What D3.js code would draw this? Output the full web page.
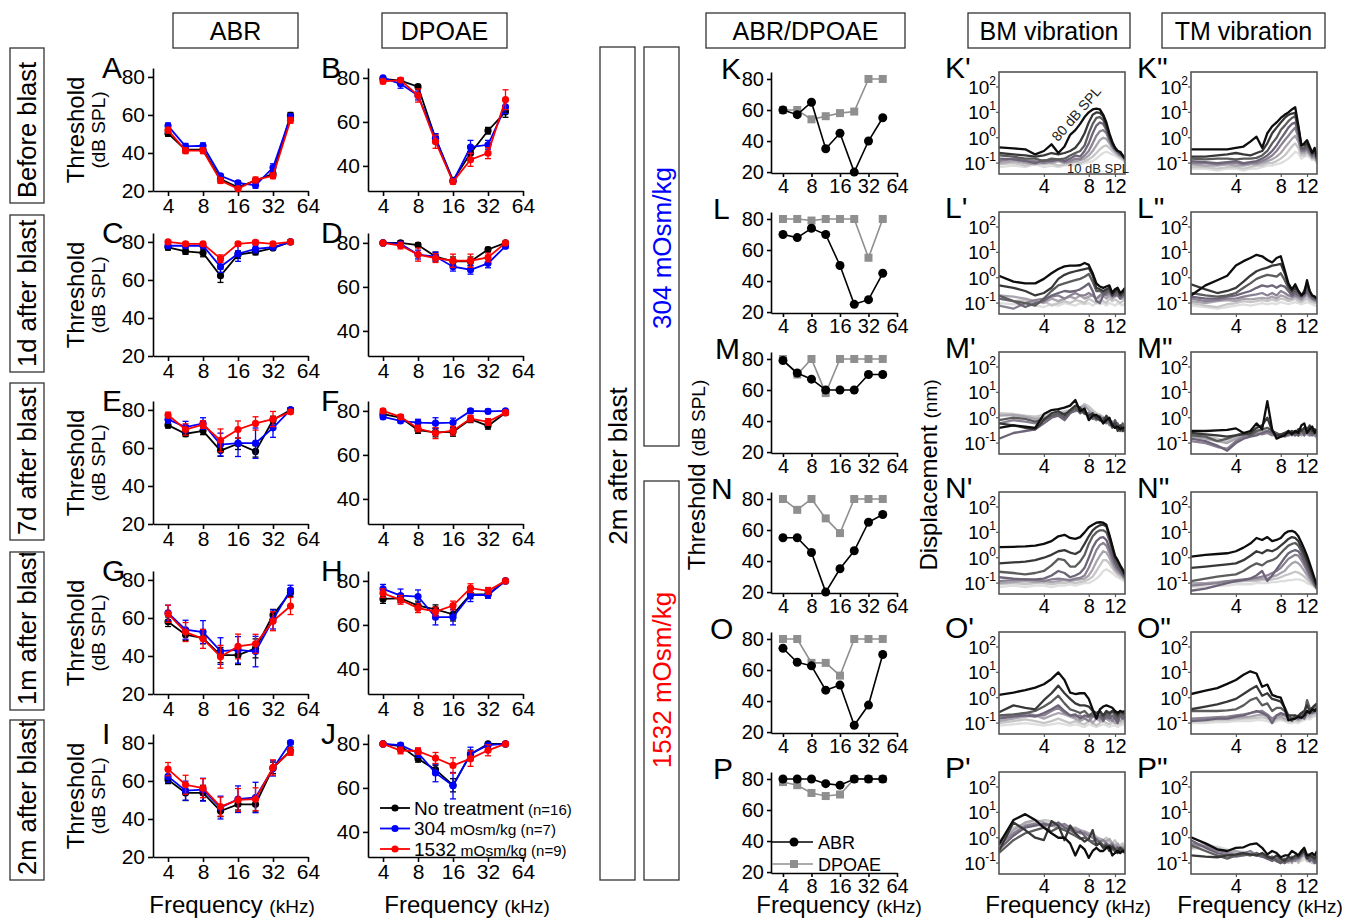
<!DOCTYPE html>
<html><head><meta charset="utf-8">
<script src="https://cdn.jsdelivr.net/npm/d3@7"></script>
<style>body{margin:0;background:#fff}</style>
</head><body>
<script>
// ================= DATA =================
const freqs = [4, 5.66, 8, 11.31, 16, 22.63, 32, 45.25];
const freqTicks = [4, 8, 16, 32, 64];
const abrTicksY = [20, 40, 60, 80];
const dpTicksY = [40, 60, 80];
const treatNames = ["No treatment", "304", "1532"];
const treatUnits = ["", " mOsm/kg", " mOsm/kg"];
const treatN = ["(n=16)", "(n=7)", "(n=9)"];
const rowLabels = ["Before blast", "1d after blast", "7d after blast", "1m after blast", "2m after blast"];

// means: [no treatment, 304, 1532]
const A_mean = [[50.3,41.7,41.7,26.3,22,25.5,29,59.8],[54.3,43.5,43.8,28,24.3,23,32.3,59],[52,41.2,41.2,25.5,21.2,25.8,28,57.2]];
const A_sem  = [[1.5,1.5,1.5,1.5,1,1,1.5,1.5],[1.5,1.5,1.5,1,1,1.5,2,1.5],[1.5,1.5,1.5,1.5,1,1.5,1.5,1.5]];
const B_mean = [[79.5,78.8,76,52.6,33.4,45.8,56,64.6],[80,77.3,72,52.6,33,48.6,49.6,66.8],[78.4,79,72,51,32.8,42.8,45.8,70.1]];
const B_sem  = [[0.5,1,1,2,1,2,1.5,2.5],[0.5,2,2,2,1,3,2,3],[1,1,3,3,1,3,2.5,4.5]];
const C_mean = [[77.2,75,74.2,62.2,73.3,74.7,76.8,80],[78,78,78,67,73.8,76.3,77.2,80],[80,79,79,71.2,79,79.8,79,80]];
const C_sem  = [[1.5,1.5,2,3.5,2,1.5,1,0.5],[1,1,1,3,4,2,1,0.5],[0.5,1,1,2,1,1,1,0.5]];
const D_mean = [[80,80,79,73.8,71.6,71.6,77,80],[80,79.5,74.7,73.8,69.2,67.8,70.7,78.5],[80,78.8,74.7,73.1,71.9,71.9,73.4,80]];
const D_sem  = [[0.5,1,1,2,2,2,1,0.5],[0.5,1,2,2,2,2,2,1],[0.5,1.5,3,2,3,3,2,0.5]];
const E_mean = [[72,67.5,69,58.6,62.2,58.2,74.7,80],[75,71,72.9,61.8,62.5,62.5,70.6,80],[77.3,69.7,72.3,64,69.7,72.9,75.2,79]];
const E_sem  = [[1.5,1.5,2,3,3,3,2,1],[2,3,3,6,7,8,5,1],[1.5,3,2,6,4.5,3.5,4,1]];
const F_mean = [[78.5,77,71.3,70.2,70.5,76.2,73.2,79.2],[77.3,75.5,74.7,74.4,74.7,80,79.8,80],[80,77.3,72,69.9,71,76.5,75,79.2]];
const F_sem  = [[1,1,1.5,2,2,1.5,1.5,1],[1,1,1.5,2.5,2,1,1,0.5],[1,1,1.5,2.5,2,1.5,1.5,1]];
const G_mean = [[58,51.2,49.4,40.5,40.5,44,61.5,73.4],[62.7,53.8,52.6,42.6,43.2,42.3,59.2,74.7],[62.2,52.6,49,39.6,45,46.4,58.3,66.3]];
const G_sem  = [[2.5,3,3,4,5,5,3,2],[4,5,6,7,7,8,5,2.5],[4.5,5,5,6,6.5,5,5,4.5]];
const H_mean = [[71.8,72.1,68.8,67.1,64.8,73.9,73.9,80],[76.4,73.3,72.9,63.5,63.5,73.6,73.6,80],[74.4,71.4,67.6,66.1,68.8,76.7,75.5,80]];
const H_sem  = [[2,2,2,2,3,2,1,0.5],[2,3,3,3.5,3.5,3,1.5,0.5],[2,2,2,2,2,2,1.5,0.5]];
const I_mean = [[60.6,53.7,53.7,44.2,47.7,47.7,66.9,75.9],[62.4,54.9,55.4,46,50.4,51.3,66.6,80.2],[66.2,58,56.2,46.5,50,50.4,67.1,75.5]];
const I_sem  = [[2,4,4,3,3,4,3,2],[3,5,6,6,7,8,4,1],[3.5,5,5,5,6,6,4,2]];
const J_mean = [[80,79,73.2,68.3,61.2,75.2,80,80],[80,79.4,75.9,66.8,61,75.5,79.4,80],[80,77,76.7,73.6,70.2,73.3,77.1,80]];
const J_sem  = [[0.5,1,1.5,2,3,2,0.5,0.5],[0.5,1,2,4,6,3,1,0.5],[0.5,1.5,1.5,2.5,3.5,3.5,2.5,0.5]];

// individual ears, 2m after blast: [ABR, DPOAE]
const K_thr = [[60,57,65,35,45,20,40,55],[60,60,54,56,58,59,80,80]];
const L_thr = [[70,68,74,70,50,25,28,45],[80,80,79,80,80,80,55,80]];
const M_thr = [[79,71,67,60,60,60,70,70],[80,70,80,58,80,80,80,80]];
const N_thr = [[55,55,45.5,20,35,46.6,65,70],[80,73,80,67.5,58,80,80,80]];
const O_thr = [[74,65,62.7,47,50.3,24.4,37.4,70],[80,80,64.6,64.6,56.4,80,80,80]];
const P_thr = [[80,80,80,77,76,80,80,80],[78,76,71,69,70,80,80,80]];

// vibration: frequency grid (kHz) and displacement (nm), rows = 80,70,...,10 dB SPL
const vibFreq = [2,2.5,3,3.5,4, 4.5,5,5.5,6,6.5, 7,7.5,8,8.5,9, 9.5,10,10.5,11,11.5, 12,12.5,13,13.5,14];
const vibTicksX = [4, 8, 12];
const vibExps = [2, 1, 0, -1];
const levels = [80,70,60,50,40,30,20,10];

const bmK = [
 [0.42,0.38,0.35,0.22,0.3, 0.55,0.25,0.45,1.3,2, 3.5,6.5,10,13,14, 13,8,4,1.5,0.7, 0.4,0.3,0.28,0.2,0.15],
 [0.25,0.22,0.2,0.18,0.2, 0.25,0.22,0.25,0.3,0.4, 0.7,1.5,4,8,10, 9.5,7,3,1.2,0.6, 0.4,0.3,0.25,0.2,0.15],
 [0.2,0.18,0.15,0.15,0.12, 0.15,0.14,0.15,0.2,0.25, 0.3,0.5,1.5,3.5,6, 6.5,5,2.5,1,0.55, 0.35,0.3,0.25,0.2,0.15],
 [0.15,0.14,0.12,0.1,0.13, 0.12,0.14,0.12,0.15,0.2, 0.18,0.3,0.6,1.5,3, 4,3.5,2,0.9,0.5, 0.35,0.3,0.22,0.2,0.14],
 [0.12,0.15,0.13,0.12,0.1, 0.12,0.13,0.11,0.12,0.15, 0.14,0.2,0.3,0.6,1.2, 1.8,2,1.5,0.8,0.45, 0.32,0.25,0.2,0.18,0.13],
 [0.1,0.12,0.1,0.09,0.11, 0.1,0.12,0.1,0.11,0.12, 0.13,0.15,0.2,0.3,0.5, 0.8,1,0.9,0.6,0.4, 0.3,0.22,0.2,0.16,0.12],
 [0.09,0.1,0.08,0.1,0.09, 0.1,0.08,0.09,0.1,0.11, 0.1,0.12,0.14,0.18,0.25, 0.35,0.45,0.5,0.4,0.3, 0.25,0.2,0.17,0.15,0.12],
 [0.07,0.08,0.07,0.09,0.07, 0.08,0.07,0.08,0.09,0.08, 0.09,0.1,0.11,0.12,0.15, 0.2,0.25,0.28,0.25,0.22, 0.2,0.17,0.15,0.13,0.1]];
const tmK = [
 [0.35,0.35,0.35,0.35,0.4, 0.45,0.7,1.1,0.4,1.5, 2.8,4,6,8,10, 13,16,3,0.5,0.6, 0.8,0.45,0.25,0.4,0.18],
 [0.18,0.18,0.2,0.22,0.25, 0.22,0.2,0.25,0.3,0.6, 1.5,2.5,4,6,8, 9,9.5,2.5,0.5,0.5, 0.6,0.4,0.25,0.35,0.15],
 [0.15,0.14,0.15,0.15,0.14, 0.15,0.15,0.16,0.2,0.3, 0.6,1,2,3,4.5, 6,7,2,0.4,0.4, 0.5,0.35,0.22,0.3,0.15],
 [0.12,0.11,0.1,0.11,0.12, 0.1,0.11,0.12,0.15,0.2, 0.3,0.5,0.9,1.5,2.5, 3.5,4,1.5,0.35,0.35, 0.4,0.3,0.2,0.25,0.14],
 [0.1,0.1,0.09,0.1,0.1, 0.09,0.1,0.1,0.12,0.15, 0.2,0.3,0.5,0.8,1.2, 1.8,2.5,1,0.3,0.3, 0.35,0.25,0.18,0.2,0.12],
 [0.09,0.08,0.08,0.09,0.08, 0.08,0.09,0.09,0.1,0.12, 0.14,0.18,0.25,0.4,0.6, 0.9,1.2,0.7,0.25,0.25, 0.3,0.22,0.16,0.18,0.12],
 [0.07,0.07,0.06,0.07,0.07, 0.06,0.07,0.08,0.08,0.1, 0.1,0.12,0.15,0.2,0.3, 0.45,0.6,0.4,0.2,0.2, 0.25,0.2,0.15,0.15,0.1],
 [0.06,0.06,0.05,0.06,0.06, 0.05,0.06,0.06,0.07,0.08, 0.08,0.09,0.1,0.12,0.15, 0.2,0.28,0.25,0.15,0.18, 0.2,0.17,0.13,0.14,0.1]];
const bmL = [
 [1.2,0.7,0.6,0.6,0.9, 1.5,2.2,2.8,3,3, 3.1,3.8,3.2,1.5,0.6, 0.45,0.4,0.45,0.5,0.25, 0.35,0.4,0.25,0.3,0.4],
 [0.5,0.4,0.3,0.2,0.25, 0.4,0.9,1.3,1.6,1.8, 2,2.2,2.4,1.2,0.4, 0.35,0.3,0.35,0.4,0.2, 0.3,0.35,0.2,0.25,0.3],
 [0.2,0.12,0.1,0.08,0.15, 0.3,0.5,0.6,0.7,0.8, 0.9,1.1,1.4,0.7,0.3, 0.3,0.25,0.3,0.35,0.2, 0.25,0.3,0.2,0.2,0.25],
 [0.15,0.12,0.07,0.1,0.12, 0.2,0.25,0.3,0.28,0.3, 0.35,0.45,0.6,0.3,0.12, 0.1,0.2,0.25,0.3,0.2, 0.2,0.25,0.15,0.2,0.22],
 [0.08,0.06,0.1,0.13,0.15, 0.18,0.2,0.15,0.2,0.25, 0.2,0.2,0.25,0.2,0.15, 0.2,0.25,0.2,0.25,0.18, 0.2,0.2,0.15,0.18,0.2],
 [0.2,0.18,0.15,0.12,0.1, 0.15,0.12,0.15,0.18,0.15, 0.2,0.15,0.18,0.2,0.15, 0.18,0.2,0.15,0.2,0.15, 0.18,0.2,0.15,0.15,0.18],
 [0.15,0.12,0.13,0.1,0.12, 0.08,0.1,0.12,0.1,0.13, 0.12,0.1,0.15,0.12,0.1, 0.14,0.12,0.1,0.15,0.12, 0.14,0.12,0.1,0.12,0.14],
 [0.1,0.09,0.1,0.08,0.07, 0.09,0.08,0.1,0.09,0.08, 0.1,0.09,0.1,0.08,0.1, 0.09,0.1,0.08,0.1,0.09, 0.08,0.1,0.09,0.08,0.1]];
const tmL = [
 [0.2,0.5,0.8,1.2,3, 4.5,6,8,7,5, 4,6,7,2,0.6, 0.35,0.55,0.3,0.2,0.25, 0.8,0.3,0.2,0.18,0.15],
 [0.55,0.35,0.25,0.3,0.4, 0.7,1.2,1.8,2.2,2.5, 3,3.2,3.5,1.5,0.5, 0.3,0.4,0.3,0.2,0.3, 0.6,0.3,0.2,0.18,0.15],
 [0.25,0.2,0.18,0.2,0.25, 0.4,0.6,0.9,1.1,1.3, 1.2,1.1,1.5,0.8,0.4, 0.25,0.3,0.25,0.2,0.25, 0.4,0.25,0.18,0.15,0.14],
 [0.18,0.15,0.15,0.18,0.2, 0.25,0.3,0.4,0.5,0.45, 0.5,0.4,0.5,0.45,0.3, 0.2,0.25,0.2,0.18,0.2, 0.3,0.2,0.16,0.14,0.13],
 [0.15,0.12,0.13,0.15,0.15, 0.18,0.2,0.22,0.25,0.2, 0.25,0.2,0.3,0.25,0.2, 0.18,0.2,0.18,0.15,0.2, 0.25,0.18,0.15,0.13,0.12],
 [0.12,0.1,0.12,0.13,0.12, 0.15,0.14,0.15,0.16,0.15, 0.18,0.15,0.2,0.18,0.15, 0.15,0.18,0.15,0.13,0.16, 0.2,0.15,0.13,0.12,0.11],
 [0.1,0.08,0.07,0.09,0.1, 0.12,0.11,0.12,0.13,0.12, 0.14,0.12,0.15,0.14,0.12, 0.13,0.15,0.12,0.11,0.13, 0.15,0.12,0.11,0.1,0.1],
 [0.08,0.07,0.06,0.07,0.08, 0.09,0.08,0.09,0.1,0.09, 0.1,0.09,0.11,0.1,0.09, 0.1,0.11,0.1,0.09,0.1, 0.11,0.1,0.09,0.08,0.08]];
const bmM = [
 [0.4,0.5,0.45,0.4,1.4, 2,2.2,2.5,3,5, 1.8,2.3,0.8,1.2,1.3, 1,0.6,0.8,1,0.5, 0.4,0.45,0.35,0.4,0.4],
 [0.6,0.5,0.4,0.35,0.8, 1.5,1.8,1.3,2,3, 2.5,1.5,1.2,1.5,1, 0.8,0.7,1.2,0.8,0.5, 0.6,0.3,0.5,0.3,0.35],
 [0.8,1,0.9,0.7,0.9, 1.2,1.5,1,1.8,2.5, 1.5,2,1,1.3,0.9, 1.1,0.6,1,0.7,0.4, 0.8,0.5,0.3,0.6,0.3],
 [0.15,0.25,0.3,0.35,0.6, 1,1.2,0.8,1.5,2, 2.2,1.8,1.3,0.9,1.2, 0.8,1,0.6,0.9,0.5, 0.4,0.6,0.3,0.5,0.3],
 [0.6,0.8,0.7,0.6,0.8, 1.1,1.3,1.5,1.6,1.8, 2,1.4,1.6,1,0.8, 1.2,0.7,0.9,0.5,0.7, 0.4,0.5,0.35,0.4,0.3],
 [1.2,1.3,1.1,0.9,1, 1.2,1.4,1.3,1.6,2, 2.5,3,2,1.5,1.2, 1,0.9,0.7,0.8,0.5, 0.6,0.4,0.5,0.3,0.3],
 [1.5,1.4,1.2,1.1,1.3, 1.5,1.6,1.8,2,2.2, 2.5,3.5,2.8,2,1.5, 1.3,1.1,0.9,0.7,0.6, 0.8,0.5,0.4,0.5,0.3],
 [1.3,1.2,1.1,1,1.2, 1.4,1.5,1.7,1.9,2, 2.3,2.8,2.5,1.8,1.4, 1.2,1,1,0.8,0.6, 0.7,0.5,0.4,0.4,0.3]];
const tmM = [
 [0.3,0.3,0.32,0.33,0.38, 0.25,0.3,0.6,0.35,4.5, 0.35,0.15,0.18,0.2,0.3, 0.22,0.3,0.25,0.5,0.6, 0.25,0.35,0.45,0.25,0.35],
 [0.25,0.22,0.2,0.18,0.2, 0.22,0.25,0.4,0.5,1, 0.3,0.2,0.22,0.25,0.25, 0.3,0.25,0.35,0.3,0.4, 0.3,0.5,0.3,0.35,0.3],
 [0.2,0.18,0.12,0.15,0.2, 0.25,0.2,0.3,0.35,0.4, 0.3,0.25,0.2,0.25,0.3, 0.25,0.3,0.2,0.35,0.25, 0.4,0.3,0.25,0.3,0.25],
 [0.15,0.12,0.08,0.05,0.1, 0.15,0.18,0.2,0.25,0.3, 0.25,0.2,0.18,0.2,0.22, 0.25,0.2,0.25,0.3,0.2, 0.35,0.25,0.2,0.28,0.2],
 [0.12,0.1,0.07,0.06,0.12, 0.18,0.2,0.25,0.22,0.25, 0.2,0.22,0.2,0.18,0.2, 0.22,0.25,0.2,0.25,0.3, 0.25,0.2,0.25,0.2,0.18],
 [0.18,0.15,0.12,0.1,0.15, 0.2,0.25,0.3,0.28,0.3, 0.25,0.2,0.22,0.2,0.25, 0.2,0.22,0.25,0.2,0.28, 0.22,0.2,0.25,0.22,0.2],
 [0.22,0.2,0.15,0.12,0.18, 0.22,0.3,0.35,0.3,0.28, 0.25,0.22,0.2,0.25,0.2, 0.25,0.2,0.22,0.3,0.25, 0.3,0.2,0.22,0.25,0.15],
 [0.25,0.22,0.2,0.18,0.2, 0.25,0.3,0.32,0.28,0.3, 0.25,0.2,0.22,0.2,0.22, 0.2,0.25,0.2,0.22,0.2, 0.25,0.22,0.2,0.2,0.15]];
const bmN = [
 [2.6,2.7,2.8,3,3.5, 4.5,7,8,6,5.5, 6.5,10,16,20,24, 25,24,20,8,3, 1.2,0.8,0.5,0.35,0.22],
 [0.6,0.65,0.7,0.8,1, 1.3,1.8,2,1.6,1.4, 1.8,3.5,7,12,16, 19,20,17,7,2.5, 1,0.7,0.45,0.3,0.2],
 [0.28,0.25,0.22,0.25,0.3, 0.5,0.9,0.8,0.45,0.45, 0.7,1.3,3.5,7,10, 12,12,10,5,2, 0.8,0.5,0.35,0.25,0.18],
 [0.17,0.15,0.14,0.14,0.15, 0.2,0.3,0.25,0.17,0.2, 0.25,0.4,1,2.5,4.5, 6,6.5,5,2.5,1.2, 0.6,0.4,0.3,0.22,0.16],
 [0.12,0.13,0.14,0.13,0.12, 0.14,0.15,0.14,0.13,0.15, 0.16,0.2,0.4,0.9,2, 3.2,3.8,3,1.6,0.8, 0.45,0.32,0.25,0.2,0.15],
 [0.1,0.11,0.12,0.11,0.12, 0.11,0.12,0.13,0.12,0.13, 0.14,0.15,0.2,0.35,0.7, 1.2,1.8,1.6,1,0.55, 0.35,0.26,0.22,0.18,0.14],
 [0.09,0.1,0.09,0.1,0.1, 0.09,0.1,0.1,0.11,0.1, 0.11,0.12,0.14,0.18,0.3, 0.5,0.8,0.8,0.6,0.4, 0.28,0.22,0.18,0.16,0.13],
 [0.07,0.08,0.07,0.08,0.08, 0.07,0.08,0.08,0.09,0.08, 0.09,0.1,0.1,0.12,0.15, 0.2,0.3,0.35,0.3,0.25, 0.2,0.17,0.15,0.13,0.11]];
const tmN = [
 [1.1,1.3,1.4,1.5,1.8, 2.5,3.6,6,5,6.5, 4.5,5,6,9,11, 11.5,10,7,4,2.2, 1.2,0.6,0.3,0.15,0.08],
 [0.4,0.45,0.5,0.55,0.6, 0.8,1.2,1.8,1.5,2, 1.8,2.2,3,4,5.5, 6.5,6,4.5,2.5,1.4, 0.8,0.4,0.22,0.12,0.07],
 [0.12,0.15,0.18,0.2,0.22, 0.3,0.45,0.6,0.5,0.7, 0.8,1,1.5,2.2,3, 3.5,3.8,3,1.8,1, 0.55,0.3,0.18,0.1,0.06],
 [0.05,0.06,0.08,0.1,0.12, 0.13,0.15,0.2,0.3,0.12, 0.2,0.35,0.6,1,1.5, 1.8,2,1.8,1.2,0.7, 0.4,0.22,0.14,0.09,0.06],
 [0.08,0.09,0.1,0.12,0.13, 0.14,0.15,0.16,0.18,0.2, 0.25,0.3,0.4,0.6,0.9, 1.1,1.3,1.2,0.8,0.5, 0.3,0.18,0.12,0.08,0.06],
 [0.1,0.1,0.11,0.12,0.12, 0.13,0.13,0.14,0.15,0.15, 0.18,0.2,0.25,0.3,0.45, 0.6,0.7,0.6,0.45,0.3, 0.2,0.14,0.1,0.08,0.06],
 [0.09,0.1,0.1,0.11,0.11, 0.12,0.12,0.12,0.13,0.13, 0.14,0.15,0.17,0.2,0.22, 0.25,0.28,0.26,0.22,0.18, 0.14,0.11,0.09,0.07,0.06],
 [0.07,0.07,0.08,0.08,0.09, 0.09,0.09,0.1,0.1,0.1, 0.11,0.11,0.12,0.12,0.13, 0.13,0.14,0.14,0.13,0.12, 0.1,0.09,0.08,0.07,0.06]];
const bmO = [
 [1.3,1.6,2,2.5,3.4, 5.5,10,5,1.6,1.4, 1.5,1.5,0.9,0.35,0.15, 0.35,0.45,0.5,0.45,0.4, 0.3,0.25,0.3,0.28,0.3],
 [0.27,0.5,0.4,0.35,0.8, 1.5,3,1.5,0.9,0.6, 0.5,0.5,0.45,0.3,0.25, 0.3,0.2,0.3,0.25,0.3, 0.25,0.2,0.3,0.25,0.25],
 [0.2,0.22,0.25,0.3,0.45, 0.7,1.2,0.6,0.35,0.3, 0.25,0.3,0.2,0.25,0.2, 0.3,0.15,0.25,0.2,0.3, 0.2,0.15,0.25,0.2,0.25],
 [0.15,0.18,0.2,0.18,0.25, 0.35,0.5,0.3,0.2,0.22, 0.15,0.2,0.18,0.2,0.15, 0.2,0.12,0.2,0.15,0.2, 0.15,0.1,0.2,0.15,0.18],
 [0.18,0.2,0.25,0.2,0.2, 0.3,0.4,0.25,0.2,0.18, 0.2,0.15,0.12,0.18,0.2, 0.15,0.2,0.15,0.2,0.12, 0.18,0.15,0.2,0.15,0.2],
 [0.12,0.15,0.18,0.2,0.15, 0.2,0.25,0.22,0.18,0.15, 0.12,0.15,0.18,0.1,0.15, 0.12,0.18,0.15,0.12,0.15, 0.1,0.15,0.12,0.15,0.12],
 [0.1,0.12,0.14,0.12,0.1, 0.12,0.15,0.12,0.1,0.12, 0.1,0.09,0.12,0.1,0.08, 0.1,0.12,0.1,0.09,0.11, 0.1,0.09,0.1,0.11,0.1],
 [0.08,0.09,0.1,0.09,0.08, 0.09,0.1,0.09,0.08,0.09, 0.08,0.07,0.09,0.08,0.07, 0.08,0.09,0.08,0.07,0.08, 0.08,0.07,0.08,0.09,0.08]];
const tmO = [
 [1.4,1.9,2.4,3.5,5, 8,11,9,2.7,3.3, 1.3,1.1,1,0.4,0.13, 0.14,0.15,0.18,0.16,0.2, 0.3,0.25,0.35,0.3,0.4],
 [0.35,0.45,0.55,0.7,0.9, 1.4,2.1,2.9,1.2,1.5, 0.9,0.8,0.7,0.4,0.2, 0.2,0.2,0.18,0.25,0.3, 0.5,0.3,0.4,0.5,0.6],
 [0.3,0.3,0.3,0.32,0.35, 0.5,0.8,1,0.5,0.6, 0.3,0.4,0.4,0.3,0.2, 0.15,0.18,0.2,0.25,0.2, 0.8,0.4,0.3,0.45,0.5],
 [0.12,0.13,0.15,0.15,0.18, 0.2,0.25,0.3,0.25,0.2, 0.1,0.2,0.25,0.22,0.15, 0.12,0.2,0.15,0.2,0.15, 0.25,0.3,0.25,0.3,0.35],
 [0.15,0.16,0.17,0.18,0.2, 0.22,0.25,0.28,0.3,0.22, 0.15,0.2,0.22,0.2,0.18, 0.15,0.17,0.15,0.18,0.2, 0.3,0.25,0.28,0.3,0.35],
 [0.14,0.14,0.15,0.15,0.16, 0.17,0.18,0.2,0.22,0.18, 0.14,0.16,0.18,0.15,0.13, 0.14,0.15,0.13,0.15,0.18, 0.22,0.2,0.25,0.25,0.3],
 [0.12,0.12,0.13,0.13,0.14, 0.15,0.15,0.16,0.17,0.15, 0.12,0.14,0.15,0.13,0.12, 0.12,0.13,0.12,0.14,0.15, 0.18,0.17,0.2,0.22,0.25],
 [0.1,0.1,0.11,0.11,0.12, 0.12,0.12,0.13,0.13,0.12, 0.1,0.12,0.13,0.12,0.1, 0.1,0.11,0.1,0.12,0.13, 0.15,0.14,0.17,0.18,0.2]];
const bmP = [
 [0.55,5,8.5,5,2.5, 1.5,1,1,0.6,0.2, 0.5,0.35,0.16,0.3,0.4, 0.3,0.3,0.4,0.45,0.2, 0.25,0.3,0.25,0.3,0.3],
 [0.3,4,2,1,0.8, 4.5,3,0.8,3,1.5, 1,0.7,0.9,2,0.5, 0.6,0.4,0.5,0.3,0.45, 0.35,0.25,0.4,0.3,0.25],
 [0.25,0.8,1.5,2,2.5, 1.8,2.5,2,1.5,1.2, 0.9,1,0.8,0.6,0.5, 0.7,0.5,0.4,0.5,0.35, 0.3,0.4,0.3,0.35,0.3],
 [0.35,1.2,2.5,3,3.5, 3,4,2.5,2,1.5, 1.8,1.2,0.8,0.7,0.9, 0.6,0.5,0.6,0.4,0.5, 0.35,0.3,0.4,0.35,0.3],
 [0.5,1.5,3,3.5,2.8, 3.5,3,3.5,2.5,2, 1.5,1.6,1.2,1,0.8, 0.7,0.8,0.6,0.5,0.6, 0.4,0.45,0.35,0.4,0.3],
 [0.6,2,4,5,4, 3,2.5,3,2.2,2.5, 2,1.8,1.5,1.2,1, 0.9,0.8,0.7,0.9,0.6, 0.5,0.6,0.4,0.45,0.35],
 [0.7,2.5,3.5,4,5, 4.5,3.5,2.5,3,2.2, 1.8,1.5,1.3,1.5,1.1, 0.9,0.8,1,0.7,0.6, 0.8,0.5,0.5,0.6,0.4],
 [0.8,2,3,3.5,4, 3.8,3,2.8,2.5,2, 1.7,1.4,1.2,1.3,1, 0.9,0.7,0.8,0.6,0.6, 0.5,0.5,0.45,0.5,0.4]];
const tmP = [
 [1.05,0.6,0.35,0.3,0.4, 0.42,0.55,0.6,0.4,0.22, 0.3,0.25,0.17,0.2,0.2, 0.3,0.25,0.2,0.3,0.4, 0.2,0.22,0.25,0.2,0.3],
 [0.2,0.18,0.17,0.2,0.22, 0.25,0.22,0.2,0.25,0.18, 0.15,0.2,0.15,0.12,0.18, 0.15,0.2,0.18,0.25,0.3, 0.15,0.2,0.18,0.15,0.2],
 [0.5,0.3,0.2,0.15,0.2, 0.22,0.2,0.25,0.2,0.15, 0.18,0.12,0.1,0.15,0.12, 0.18,0.15,0.2,0.25,0.35, 0.2,0.15,0.2,0.12,0.15],
 [0.8,0.4,0.25,0.2,0.18, 0.2,0.22,0.2,0.18,0.15, 0.12,0.15,0.12,0.1,0.15, 0.12,0.18,0.15,0.2,0.3, 0.18,0.12,0.15,0.1,0.12],
 [0.6,0.45,0.3,0.25,0.2, 0.25,0.3,0.2,0.18,0.2, 0.15,0.12,0.15,0.1,0.12, 0.15,0.12,0.18,0.2,0.25, 0.15,0.12,0.18,0.12,0.1],
 [0.4,0.5,0.35,0.25,0.3, 0.25,0.2,0.25,0.2,0.15, 0.18,0.15,0.1,0.12,0.15, 0.1,0.15,0.12,0.18,0.2, 0.15,0.18,0.12,0.1,0.12],
 [0.5,0.6,0.4,0.3,0.25, 0.2,0.25,0.22,0.18,0.2, 0.15,0.12,0.15,0.12,0.1, 0.12,0.15,0.1,0.15,0.2, 0.12,0.15,0.1,0.12,0.1],
 [0.35,0.4,0.45,0.35,0.3, 0.28,0.25,0.22,0.2,0.18, 0.16,0.15,0.14,0.13,0.12, 0.12,0.13,0.12,0.12,0.14, 0.12,0.11,0.1,0.1,0.1]];

// ================= LAYOUT / STYLE =================
const FONT = "'Liberation Sans', Arial, Helvetica, sans-serif";
const treatColors = ["#000000", "#0000ff", "#ff0000"];
const levelColors = ["#0d0d0d","#383838","#5c5c5c","#6e6478","#8a8292","#a9a4ae","#c6c6c6","#dedede"];
const W = 1352, H = 919;

const svg = d3.select("body").append("svg").attr("width", W).attr("height", H)
  .style("font-family", FONT);
svg.append("rect").attr("width", W).attr("height", H).attr("fill", "#fff");
const defs = svg.append("defs");

function styleAxis(a, fs) {
  a.select(".domain").attr("stroke", "#000").attr("stroke-width", 1.6);
  a.selectAll(".tick line").attr("stroke", "#000").attr("stroke-width", 1.6);
  a.selectAll(".tick text").attr("font-size", fs).attr("fill", "#000").attr("font-family", FONT);
}

function boxLabel(x, y, w, h, txt, fs) {
  svg.append("rect").attr("x", x).attr("y", y).attr("width", w).attr("height", h)
    .attr("fill", "none").attr("stroke", "#333").attr("stroke-width", 1.3);
  svg.append("text").attr("x", x + w / 2).attr("y", y + h / 2 + fs * 0.36)
    .attr("text-anchor", "middle").attr("font-size", fs).attr("fill", "#000").text(txt);
}

// ---------- header boxes ----------
boxLabel(173, 13, 125, 35, "ABR", 25);
boxLabel(382, 13, 125, 35, "DPOAE", 25);
boxLabel(706, 13, 199, 35, "ABR/DPOAE", 25);
boxLabel(968, 13, 162, 35, "BM vibration", 25);
boxLabel(1162, 13, 163, 35, "TM vibration", 25);

// ---------- row label boxes ----------
const rowBoxes = [[48, 155], [215, 157], [383, 157], [552, 158], [720, 160]];
rowBoxes.forEach(([y, h], i) => {
  svg.append("rect").attr("x", 10).attr("y", y).attr("width", 34).attr("height", h)
    .attr("fill", "none").attr("stroke", "#333").attr("stroke-width", 1.3);
  const cid = "rowclip" + i;
  defs.append("clipPath").attr("id", cid).append("rect").attr("x", 10).attr("y", y + 1).attr("width", 34).attr("height", h - 2);
  svg.append("g").attr("clip-path", `url(#${cid})`).append("text")
    .attr("transform", `translate(36,${y + h - 5}) rotate(-90)`)
    .attr("font-size", 25.5).attr("fill", "#000").text(rowLabels[i]);
});

// ---------- group boxes (right) ----------
function vertBox(x, y, w, h, txt, cy, color) {
  svg.append("rect").attr("x", x).attr("y", y).attr("width", w).attr("height", h)
    .attr("fill", "none").attr("stroke", "#333").attr("stroke-width", 1.3);
  svg.append("text").attr("transform", `translate(${x + w / 2 + 9},${cy}) rotate(-90)`)
    .attr("text-anchor", "middle").attr("font-size", 26).attr("fill", color).text(txt);
}
vertBox(600, 47, 35, 833, "2m after blast", 466, "#000");
vertBox(644, 47, 35, 399, "304 mOsm/kg", 248, "#0000ff");
vertBox(644, 481, 35, 399, "1532 mOsm/kg", 680, "#ff0000");

// ---------- left threshold panels ----------
const rowTops = [68, 233, 401, 571, 734];
const PH = 123;
const abrX = [153, 308], dpX = [368, 523];
const leftPanels = [
  ["A", "B", A_mean, A_sem, B_mean, B_sem],
  ["C", "D", C_mean, C_sem, D_mean, D_sem],
  ["E", "F", E_mean, E_sem, F_mean, F_sem],
  ["G", "H", G_mean, G_sem, H_mean, H_sem],
  ["I", "J", I_mean, I_sem, J_mean, J_sem]
];

function thrPanel(x0, x1, top, h, yDom, yTicks, means, sems, fs) {
  const g = svg.append("g");
  const xs = d3.scaleLog().base(2).domain([2.97, 64]).range([x0, x1]);
  const ys = d3.scaleLinear().domain(yDom).range([top + h, top]);
  const ya = g.append("g").attr("transform", `translate(${x0},0)`)
    .call(d3.axisLeft(ys).tickValues(yTicks).tickSize(5).tickSizeOuter(0).tickPadding(3));
  const xa = g.append("g").attr("transform", `translate(0,${top + h})`)
    .call(d3.axisBottom(xs).tickValues(freqTicks).tickFormat(d => d).tickSize(5).tickSizeOuter(0).tickPadding(2));
  styleAxis(ya, fs); styleAxis(xa, fs);
  const line = d3.line().x((d, i) => xs(freqs[i])).y(d => ys(d));
  means.forEach((m, k) => {
    const c = treatColors[k];
    const s = g.append("g");
    const pts = m.map((v, i) => ({ x: xs(freqs[i]), lo: ys(v - sems[k][i]), hi: ys(v + sems[k][i]), y: ys(v) }));
    s.selectAll("line.eb").data(pts).join("line").attr("x1", d => d.x).attr("x2", d => d.x)
      .attr("y1", d => d.lo).attr("y2", d => d.hi).attr("stroke", c).attr("stroke-width", 1.3);
    s.selectAll("line.ct").data(pts).join("line").attr("x1", d => d.x - 3).attr("x2", d => d.x + 3)
      .attr("y1", d => d.hi).attr("y2", d => d.hi).attr("stroke", c).attr("stroke-width", 1.3);
    s.selectAll("line.cb").data(pts).join("line").attr("x1", d => d.x - 3).attr("x2", d => d.x + 3)
      .attr("y1", d => d.lo).attr("y2", d => d.lo).attr("stroke", c).attr("stroke-width", 1.3);
    s.append("path").attr("d", line(m)).attr("fill", "none").attr("stroke", c).attr("stroke-width", 1.8);
    s.selectAll("circle").data(pts).join("circle").attr("cx", d => d.x).attr("cy", d => d.y)
      .attr("r", 3.6).attr("fill", c);
  });
  return { xs, ys };
}

leftPanels.forEach(([la, lb, am, as, bm, bs], r) => {
  const top = rowTops[r];
  thrPanel(abrX[0], abrX[1], top, PH, [20, 84.7], abrTicksY, am, as, 21);
  thrPanel(dpX[0], dpX[1], top, PH, [28.6, 84.5], dpTicksY, bm, bs, 21);
  svg.append("text").attr("x", 102).attr("y", top + 10).attr("font-size", 30).text(la);
  svg.append("text").attr("x", 321).attr("y", top + 10).attr("font-size", 30).text(lb);
  const cy = top + 62;
  svg.append("text").attr("transform", `translate(84,${cy}) rotate(-90)`).attr("text-anchor", "middle")
    .attr("font-size", 24).text("Threshold");
  svg.append("text").attr("transform", `translate(105,${cy}) rotate(-90)`).attr("text-anchor", "middle")
    .attr("font-size", 19).text("(dB SPL)");
});

// legend in J
const legTop = 808;
treatNames.forEach((nm, k) => {
  const y = legTop + k * 20.5;
  const c = treatColors[k];
  svg.append("line").attr("x1", 380).attr("x2", 410).attr("y1", y).attr("y2", y).attr("stroke", c).attr("stroke-width", 1.8);
  svg.append("circle").attr("cx", 395).attr("cy", y).attr("r", 3.6).attr("fill", c);
  const t = svg.append("text").attr("x", 414).attr("y", y + 6.5).attr("font-size", 19);
  t.append("tspan").text(nm);
  if (treatUnits[k]) t.append("tspan").attr("font-size", 15.5).text(treatUnits[k]);
  t.append("tspan").attr("font-size", 15).text(" " + treatN[k]);
});

// Frequency labels
function freqLabel(cx) {
  const t = svg.append("text").attr("x", cx).attr("y", 913).attr("text-anchor", "middle").attr("font-size", 24);
  t.append("tspan").text("Frequency ");
  t.append("tspan").attr("font-size", 19).text("(kHz)");
}
freqLabel(232); freqLabel(467); freqLabel(839); freqLabel(1068); freqLabel(1260);

// ---------- K-P individual panels ----------
const kpTops = [72, 212, 352, 492, 632, 772];
const kpData = [K_thr, L_thr, M_thr, N_thr, O_thr, P_thr];
const kpLetters = ["K", "L", "M", "N", "O", "P"];
const kpLetterX = [721, 713, 715, 711, 710, 713];
const abrCol = "#000", dpCol = "#8f8f8f";
kpData.forEach((d, i) => {
  const top = kpTops[i];
  const g = svg.append("g");
  const xs = d3.scaleLog().base(2).domain([2.99, 64]).range([771, 897]);
  const ys = d3.scaleLinear().domain([19.4, 84.5]).range([top + 101, top]);
  const ya = g.append("g").attr("transform", `translate(771,0)`)
    .call(d3.axisLeft(ys).tickValues(abrTicksY).tickSize(4).tickSizeOuter(0).tickPadding(3));
  const xa = g.append("g").attr("transform", `translate(0,${top + 101})`)
    .call(d3.axisBottom(xs).tickValues(freqTicks).tickFormat(v => v).tickSize(4).tickSizeOuter(0).tickPadding(2));
  styleAxis(ya, 20); styleAxis(xa, 20);
  const line = d3.line().x((v, j) => xs(freqs[j])).y(v => ys(v));
  // DPOAE (gray squares)
  g.append("path").attr("d", line(d[1])).attr("fill", "none").attr("stroke", dpCol).attr("stroke-width", 1.6);
  g.selectAll("rect.sq").data(d[1]).join("rect").attr("x", (v, j) => xs(freqs[j]) - 4).attr("y", v => ys(v) - 4)
    .attr("width", 8).attr("height", 8).attr("fill", dpCol);
  // ABR (black circles)
  g.append("path").attr("d", line(d[0])).attr("fill", "none").attr("stroke", abrCol).attr("stroke-width", 1.6);
  g.selectAll("circle").data(d[0]).join("circle").attr("cx", (v, j) => xs(freqs[j])).attr("cy", v => ys(v))
    .attr("r", 4.5).attr("fill", abrCol);
  svg.append("text").attr("x", kpLetterX[i]).attr("y", top + 7).attr("font-size", 30).text(kpLetters[i]);
});
// legend in P
[["ABR", abrCol, "c"], ["DPOAE", dpCol, "s"]].forEach(([nm, c, m], k) => {
  const y = 842 + k * 22;
  svg.append("line").attr("x1", 772).attr("x2", 813).attr("y1", y).attr("y2", y).attr("stroke", c).attr("stroke-width", 1.6);
  if (m === "c") svg.append("circle").attr("cx", 794).attr("cy", y).attr("r", 4.5).attr("fill", c);
  else svg.append("rect").attr("x", 790).attr("y", y - 4).attr("width", 8).attr("height", 8).attr("fill", c);
  svg.append("text").attr("x", 818).attr("y", y + 6.5).attr("font-size", 18).text(nm);
});
{
  const t = svg.append("text").attr("transform", "translate(705,475) rotate(-90)").attr("text-anchor", "middle").attr("font-size", 24);
  t.append("tspan").text("Threshold ");
  t.append("tspan").attr("font-size", 19).text("(dB SPL)");
}

// ---------- vibration panels ----------
const bmSets = [bmK, bmL, bmM, bmN, bmO, bmP];
const tmSets = [tmK, tmL, tmM, tmN, tmO, tmP];
const vibLetters = ["K", "L", "M", "N", "O", "P"];
let clipN = 0;
function vibPanel(x0, top, data, label, lx) {
  const w = 126, h = 102;
  const xs = d3.scaleLog().domain([2, 14]).range([x0, x0 + w]);
  const ys = d3.scaleLog().domain([0.0372, 389]).range([top + h, top]);
  const cid = "vclip" + (clipN++);
  defs.append("clipPath").attr("id", cid).append("rect").attr("x", x0).attr("y", top).attr("width", w).attr("height", h);
  const g = svg.append("g");
  const lg = g.append("g").attr("clip-path", `url(#${cid})`);
  const line = d3.line().x((v, j) => xs(vibFreq[j])).y(v => ys(v)).curve(d3.curveLinear);
  for (let k = data.length - 1; k >= 0; k--) {
    lg.append("path").attr("d", line(data[k])).attr("fill", "none").attr("stroke", levelColors[k])
      .attr("stroke-width", 2.3).attr("stroke-linejoin", "round");
  }
  g.append("rect").attr("x", x0).attr("y", top).attr("width", w).attr("height", h)
    .attr("fill", "none").attr("stroke", "#555").attr("stroke-width", 1.6);
  // y ticks
  vibExps.forEach(e => {
    const y = ys(Math.pow(10, e));
    g.append("line").attr("x1", x0 - 3).attr("x2", x0).attr("y1", y).attr("y2", y).attr("stroke", "#555").attr("stroke-width", 1.2);
    const t = g.append("text").attr("x", x0 - 3).attr("y", y + 7).attr("text-anchor", "end").attr("font-size", 19);
    t.append("tspan").text("10");
    t.append("tspan").attr("font-size", 12).attr("dy", -9).text(e);
  });
  // x ticks
  const xa = g.append("g").attr("transform", `translate(0,${top + h})`)
    .call(d3.axisBottom(xs).tickValues(vibTicksX).tickFormat(v => v).tickSize(3).tickSizeOuter(0).tickPadding(2));
  xa.select(".domain").remove();
  xa.selectAll(".tick line").attr("stroke", "#555").attr("stroke-width", 1.2);
  xa.selectAll(".tick text").attr("font-size", 20).attr("fill", "#000").attr("font-family", FONT);
  svg.append("text").attr("x", lx).attr("y", top + 6).attr("font-size", 30).text(label);
  return { xs, ys };
}
bmSets.forEach((d, i) => vibPanel(999, kpTops[i], d, vibLetters[i] + "'", 945));
tmSets.forEach((d, i) => vibPanel(1191, kpTops[i], d, vibLetters[i] + "\"", 1137));

// annotations on K'
svg.append("text").attr("transform", "translate(1080,117) rotate(-49)").attr("text-anchor", "middle")
  .attr("font-size", 14).attr("fill", "#222").text("80 dB SPL");
svg.append("text").attr("x", 1098).attr("y", 173).attr("text-anchor", "middle")
  .attr("font-size", 13).attr("fill", "#222").text("10 dB SPL");

{
  const t = svg.append("text").attr("transform", "translate(937,475) rotate(-90)").attr("text-anchor", "middle").attr("font-size", 24);
  t.append("tspan").text("Displacement ");
  t.append("tspan").attr("font-size", 19).text("(nm)");
}
</script>
</body></html>
